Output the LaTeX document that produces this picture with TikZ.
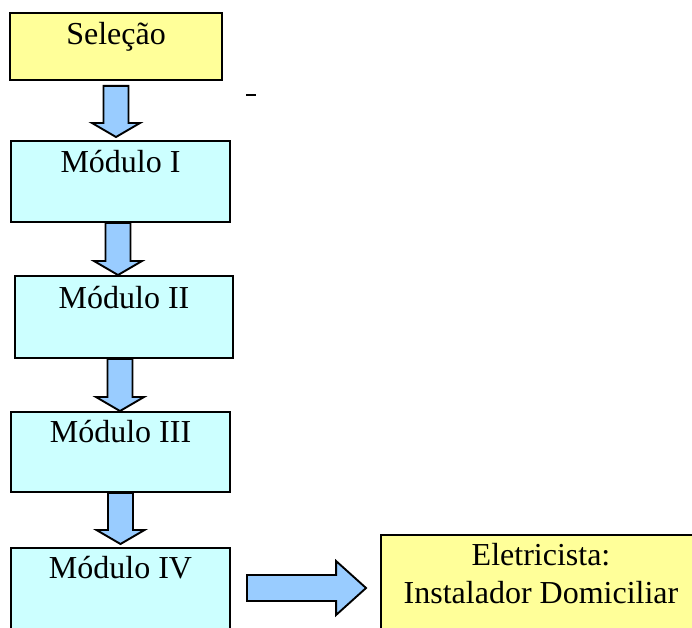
\documentclass[tikz,border=0pt]{standalone}
\usepackage{fontspec}
\setmainfont{Liberation Serif}
\usetikzlibrary{calc}
\definecolor{paleyellow}{HTML}{FFFF99}
\definecolor{palecyan}{HTML}{CCFFFF}
\definecolor{paleblue}{HTML}{99CCFF}
\tikzset{
	stage/.style={draw=black, line width=1.9pt, inner sep=0pt, anchor=north, align=center, font=\fontsize{32}{38}\selectfont},
	yellowstage/.style={stage, fill=paleyellow},
	cyanstage/.style={stage, fill=palecyan},
	blockarrow/.style={draw=black, line width=1.9pt, fill=paleblue, line join=miter},
}
\newcommand\downblock[2]{%
	\draw[blockarrow] let \p1=(#1), \p2=(#2) in
		(\x1-12.5pt,\y1) -- (\x1-12.5pt,\y2+14pt) -- (\x1-24pt,\y2+14pt) -- (\x1,\y2)
		-- (\x1+24pt,\y2+14pt) -- (\x1+12.5pt,\y2+14pt) -- (\x1+12.5pt,\y1) -- cycle;}
\newcommand\rightblock[2]{%
	\draw[blockarrow] let \p1=(#1), \p2=(#2) in
		(\x1,\y1+13pt) -- (\x2-30pt,\y1+13pt) -- (\x2-30pt,\y1+27pt) -- (\x2,\y1)
		-- (\x2-30pt,\y1-27pt) -- (\x2-30pt,\y1-13pt) -- (\x1,\y1-13pt) -- cycle;}
\begin{document}
\begin{tikzpicture}[x=1pt,y=-1pt]
		\useasboundingbox (0,0) rectangle (692,627);
		\clip (0,0) rectangle (692,627);
		\node[yellowstage, minimum width=212pt, text height=32pt, text depth=35pt] (sel) at (116,12) {Seleção};
		\node[cyanstage, minimum width=219pt, text height=32pt, text depth=49pt] (m1) at (120.5,140) {Módulo I};
		\node[cyanstage, minimum width=218pt, text height=33pt, text depth=49pt] (m2) at (124,275) {Módulo II};
		\node[cyanstage, minimum width=219pt, text height=31pt, text depth=49pt] (m3) at (120.5,411) {Módulo III};
		\node[cyanstage, minimum width=219pt, text height=31pt, text depth=70pt] (m4) at (120.5,547) {Módulo IV};
		\node[yellowstage, minimum width=320pt, text height=69pt, text depth=45pt] (el) at (541,534) {Eletricista:\\Instalador Domiciliar};
		\downblock{$(sel.south)+(0,5)$}{$(m1.north)+(0,-3)$}
		\downblock{$(m1.south)+(-2.5,0)$}{m2.north}
		\downblock{$(m2.south)+(-4,0)$}{m3.north}
		\downblock{m3.south}{$(m4.north)+(0,-3)$}
		\coordinate (rs) at (247,588);
		\rightblock{rs}{$(el.west |- rs)+(-14,0)$}
		\coordinate (dash) at (251,95);
		\draw[line width=2pt] ($(dash)+(-5,0)$) -- ($(dash)+(5,0)$);
	\end{tikzpicture}
\end{document}
